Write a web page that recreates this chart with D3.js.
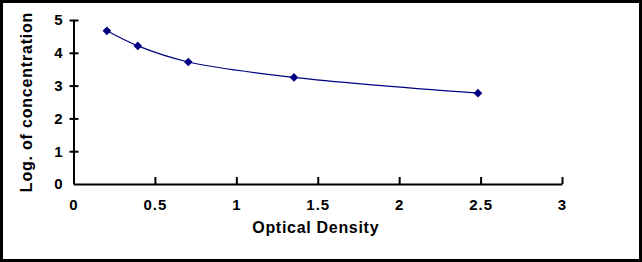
<!DOCTYPE html>
<html>
<head>
<meta charset="utf-8">
<script src="https://cdn.jsdelivr.net/npm/d3@7"></script>
<style>
  html, body { margin: 0; padding: 0; background: #fff; }
  svg { display: block; }
  text { font-family: "Liberation Sans", Arial, sans-serif; font-weight: bold; fill: #000; }
</style>
</head>
<body>
<svg width="642" height="262"></svg>
<script>
const opticalDensity = [0.205, 0.395, 0.705, 1.354, 2.484]
const logConcentration = [4.67, 4.21, 3.72, 3.25, 2.77]
const xTicks = [0, 0.5, 1, 1.5, 2, 2.5, 3]
const yTicks = [0, 1, 2, 3, 4, 5]

const svg = d3.select("svg")
const width = +svg.attr("width")
const height = +svg.attr("height")

// outer frame
svg.append("rect")
  .attr("x", 1.5).attr("y", 1.5)
  .attr("width", width - 3).attr("height", height - 3)
  .attr("fill", "#fff")
  .attr("stroke", "#000")
  .attr("stroke-width", 3)

const margins = { top: 20, right: 80, bottom: 78, left: 73.5 }
const plotW = width - margins.left - margins.right
const plotH = height - margins.top - margins.bottom

const x = d3.scaleLinear().domain([0, 3]).range([0, plotW])
const y = d3.scaleLinear().domain([0, 5]).range([plotH, 0])

const g = svg.append("g")
  .attr("transform", `translate(${margins.left},${margins.top})`)

// x axis, ticks pointing up into the plot
const xAxis = g.append("g")
  .attr("transform", `translate(0,${plotH})`)
  .call(d3.axisBottom(x).tickValues(xTicks).tickFormat(d3.format("")).tickSizeInner(-7).tickSizeOuter(0))
xAxis.select(".domain").attr("stroke-width", 2)
xAxis.selectAll(".tick line").attr("stroke-width", 2)
xAxis.selectAll(".tick text")
  .attr("y", 15)
  .attr("font-size", 15)
  .attr("letter-spacing", 1)
  .attr("font-family", null)

// y axis, ticks crossing the axis line
const yAxis = g.append("g")
  .call(d3.axisLeft(y).tickValues(yTicks).tickFormat(d3.format("d")).tickSizeInner(4).tickSizeOuter(0))
yAxis.select(".domain").attr("stroke-width", 2)
yAxis.selectAll(".tick line").attr("x2", 5).attr("x1", -4).attr("stroke-width", 2)
yAxis.selectAll(".tick text")
  .attr("x", -11)
  .attr("font-size", 15)
  .attr("font-family", null)
yAxis.selectAll(".tick").filter(d => d === 0).select("line").remove()
xAxis.selectAll(".tick").filter(d => d === 0).select("line").remove()

// axis titles
svg.append("text")
  .attr("x", margins.left + x(1.5) - 2)
  .attr("y", 233)
  .attr("text-anchor", "middle")
  .attr("font-size", 16)
  .attr("letter-spacing", 0.7)
  .text("Optical Density")

svg.append("text")
  .attr("transform", `translate(32,${margins.top + plotH / 2}) rotate(-90)`)
  .attr("text-anchor", "middle")
  .attr("font-size", 16)
  .attr("letter-spacing", 0.8)
  .text("Log. of concentration")

const points = opticalDensity.map((d, i) => [d, logConcentration[i]])

const line = d3.line()
  .curve(d3.curveCatmullRom.alpha(0.5))
  .x(d => x(d[0]))
  .y(d => y(d[1]))

g.append("path")
  .datum(points)
  .attr("fill", "none")
  .attr("stroke", "#000080")
  .attr("stroke-width", 1.2)
  .attr("d", line)

g.selectAll(".marker")
  .data(points)
  .join("path")
  .attr("class", "marker")
  .attr("transform", d => `translate(${x(d[0])},${y(d[1])})`)
  .attr("d", d3.symbol(d3.symbolDiamond2, 48))
  .attr("fill", "#000080")
</script>
</body>
</html>
